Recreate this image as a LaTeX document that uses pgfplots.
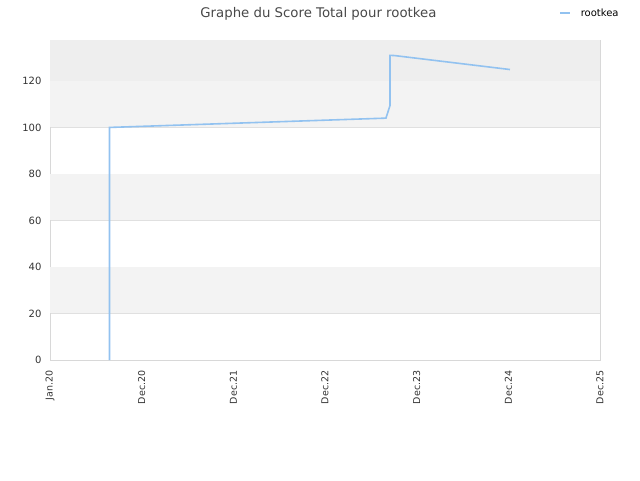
\documentclass[border=0pt]{standalone}
\usepackage{fontspec}
\setmainfont{DejaVu Sans}
\usepackage{pgfplots}
\pgfplotsset{compat=1.18}
\definecolor{lineblue}{RGB}{146,194,240}
\definecolor{bandlight}{RGB}{243,243,243}
\definecolor{banddark}{RGB}{238,238,238}
\definecolor{gridgray}{RGB}{224,224,224}
\definecolor{framegray}{RGB}{216,216,216}
\definecolor{titlegray}{RGB}{72,72,72}
\definecolor{tickgray}{RGB}{51,51,51}
\begin{document}
\begin{tikzpicture}[x=1pt,y=1pt]
\path[use as bounding box] (0,0) rectangle (640,480);
\begin{axis}[
    at={(50pt,120pt)}, anchor=south west,
    scale only axis,
    width=550pt, height=320pt,
    xmin=0, xmax=6,
    ymin=0, ymax=137.6,
    xtick={0,1,2,3,4,5,6},
    xticklabels={Jan.20,Dec.20,Dec.21,Dec.22,Dec.23,Dec.24,Dec.25},
    ytick={0,20,40,60,80,100,120},
    x tick label style={rotate=90, anchor=east, font=\fontsize{9.5}{11}\selectfont, text=tickgray},
    y tick label style={font=\fontsize{10}{12}\selectfont, text=tickgray},
    /pgf/number format/assume math mode=true,
    xticklabel shift=7pt,
    yticklabel shift=5pt,
    major tick length=0pt,
    axis line style={framegray},
    ymajorgrids=true,
    grid style={gridgray, line width=0.8pt},
    title={Graphe du Score Total pour rootkea},
    title style={at={(rel axis cs:0.488,1.064)}, anchor=center,
                 font=\fontsize{13.3}{15}\selectfont, text=titlegray},
    legend style={at={(rel axis cs:0.9255,1.084)}, anchor=west, draw=none,
                  fill=none, font=\fontsize{10}{12}\selectfont,
                  inner sep=0pt, row sep=0pt},
    legend image code/.code={\draw[#1, line width=1.6pt] (0pt,0pt) -- (10pt,0pt);
                             \path (18pt,0pt);},
]
\fill[bandlight] (axis cs:0,20) rectangle (axis cs:6,40);
\fill[bandlight] (axis cs:0,60) rectangle (axis cs:6,80);
\fill[bandlight] (axis cs:0,100) rectangle (axis cs:6,120);
\fill[banddark] (axis cs:0,120) rectangle (axis cs:6,137.6);
\addplot[color=lineblue, line width=1.6pt, line join=miter] coordinates {
    (0.649,0) (0.649,100.0) (3.665,104.0) (3.709,109.4) (3.709,131.0)
    (3.76,130.9) (5.018,124.9)
};
\addlegendentry{rootkea}
\end{axis}
\end{tikzpicture}
\end{document}
